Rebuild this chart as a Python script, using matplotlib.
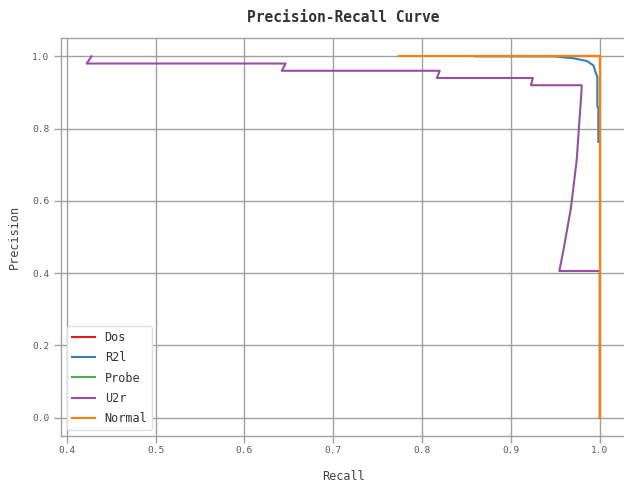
import matplotlib
matplotlib.use("Agg")
import matplotlib.pyplot as plt

# ---- data (recall, precision) ----
labels = ["Dos", "R2l", "Probe", "U2r", "Normal"]
colors = ["#e41a1c", "#377eb8", "#4daf4a", "#984ea3", "#ff7f00"]

dos_recall = [0.86, 0.95, 0.99, 1.0, 1.0]
dos_precision = [1.0, 1.0, 1.0, 1.0, 0.0]

r2l_recall = [0.86, 0.9477, 0.9703, 0.9854, 0.9928, 0.9958, 0.9973, 0.9973, 0.9984, 0.9984]
r2l_precision = [1.0, 1.0, 0.9945, 0.987, 0.975, 0.952, 0.943, 0.86, 0.858, 0.763]

probe_recall = [0.90, 0.97, 1.0, 1.0]
probe_precision = [1.0, 1.0, 1.0, 0.0]

u2r_recall = [0.4278, 0.4224, 0.6464, 0.642, 0.8198, 0.8167, 0.9247, 0.9225,
              0.9797, 0.9793, 0.974, 0.9675, 0.9591, 0.9545, 1.0, 1.0]
u2r_precision = [1.0, 0.98, 0.98, 0.96, 0.96, 0.94, 0.94, 0.92,
                 0.92, 0.90, 0.7125, 0.58, 0.4637, 0.406, 0.406, 0.0]

normal_recall = [0.774, 1.0, 1.0]
normal_precision = [1.0, 1.0, 0.0]

recalls = [dos_recall, r2l_recall, probe_recall, u2r_recall, normal_recall]
precisions = [dos_precision, r2l_precision, probe_precision, u2r_precision, normal_precision]

xticks = [0.4, 0.5, 0.6, 0.7, 0.8, 0.9, 1.0]
yticks = [0.0, 0.2, 0.4, 0.6, 0.8, 1.0]

plt.rcParams['font.family'] = ['DejaVu Sans Mono', 'DejaVu Sans']

fig = plt.figure(figsize=(6.24, 4.87), dpi=100)
ax = fig.add_axes([0.0978, 0.1051, 0.9045, 0.8164])
ax.set_facecolor("white")

for r, p, lab, c in zip(recalls, precisions, labels, colors):
    ax.plot(r, p, color=c, lw=1.5, label=lab)

ax.margins(x=0.05, y=0.05)
ax.set_xticks(xticks)
ax.set_yticks(yticks)
ax.set_xticklabels([f"{v:.1f}" for v in xticks])
ax.set_yticklabels([f"{v:.1f}" for v in yticks])
ax.grid(True, color="#a0a0a0", lw=1.0)
ax.set_axisbelow(True)
for s in ax.spines.values():
    s.set_color("#a0a0a0")
    s.set_linewidth(1.0)
ax.tick_params(axis="both", labelsize=6.8, colors="#a0a0a0", labelcolor="#5a5a5a",
               length=5, width=1.0, direction="out")
ax.tick_params(axis="x", pad=2)

ax.set_title("Precision-Recall Curve", fontsize=10.5, fontweight="bold", color="#333333", pad=12)
ax.set_xlabel("Recall", fontsize=8.5, color="#444444", labelpad=11)
ax.set_ylabel("Precision", fontsize=8.5, color="#444444", labelpad=8)

leg = ax.legend(loc="lower left", fontsize=8.5, frameon=True, fancybox=True,
                edgecolor="#e0e0e0", framealpha=1.0, labelspacing=0.62,
                handlelength=2.0, borderaxespad=0.5)
for t in leg.get_texts():
    t.set_color("#333333")

fig.savefig("out.png", dpi=100)
